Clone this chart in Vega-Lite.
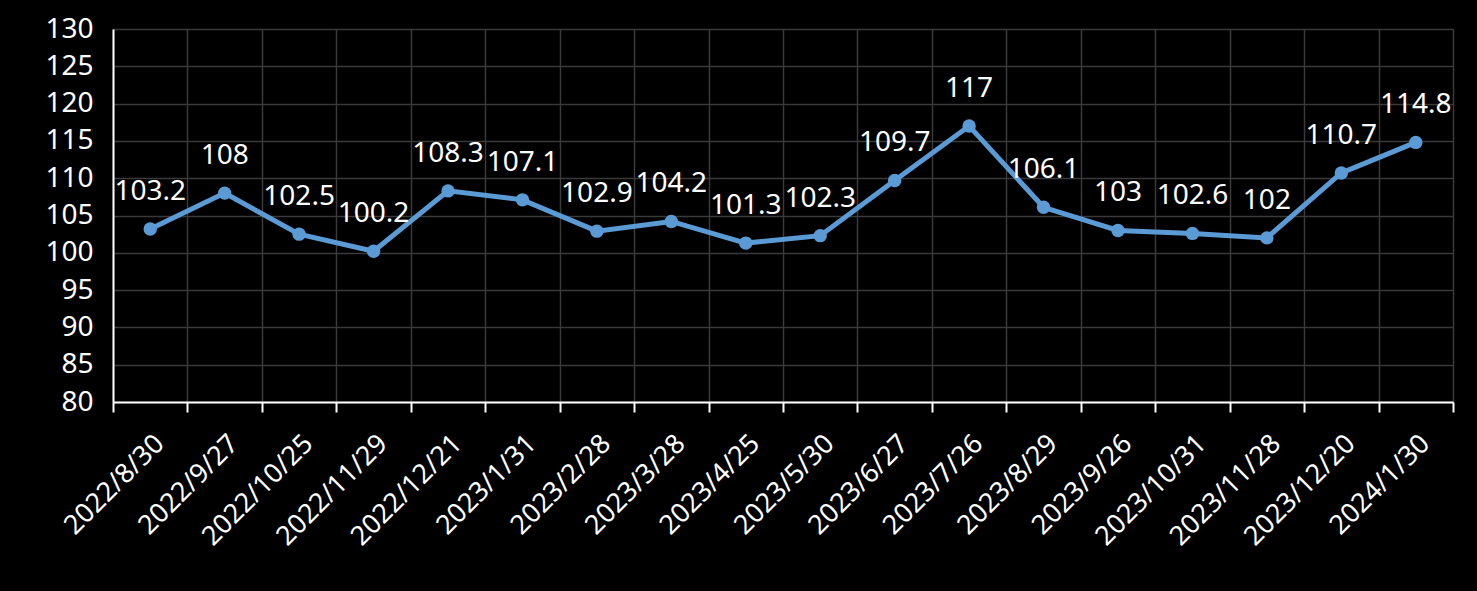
{
  "$schema": "https://vega.github.io/schema/vega-lite/v6.json",
  "autosize": "none",
  "padding": {"left": 113, "top": 29, "right": 24, "bottom": 189},
  "width": 1340,
  "height": 373,
  "background": "#000000",
  "config": {
    "view": {"stroke": null},
    "font": "Noto Sans"
  },
  "data": {
    "values": [
      {"date": "2022/8/30", "value": 103.2},
      {"date": "2022/9/27", "value": 108},
      {"date": "2022/10/25", "value": 102.5},
      {"date": "2022/11/29", "value": 100.2},
      {"date": "2022/12/21", "value": 108.3},
      {"date": "2023/1/31", "value": 107.1},
      {"date": "2023/2/28", "value": 102.9},
      {"date": "2023/3/28", "value": 104.2},
      {"date": "2023/4/25", "value": 101.3},
      {"date": "2023/5/30", "value": 102.3},
      {"date": "2023/6/27", "value": 109.7},
      {"date": "2023/7/26", "value": 117},
      {"date": "2023/8/29", "value": 106.1},
      {"date": "2023/9/26", "value": 103},
      {"date": "2023/10/31", "value": 102.6},
      {"date": "2023/11/28", "value": 102},
      {"date": "2023/12/20", "value": 110.7},
      {"date": "2024/1/30", "value": 114.8}
    ]
  },
  "encoding": {
    "x": {
      "field": "date",
      "type": "ordinal",
      "sort": null,
      "title": null,
      "axis": {
        "tickBand": "extent",
        "grid": true,
        "gridColor": "#3a3a3a",
        "gridWidth": 1.5,
        "domainColor": "#ffffff",
        "domainWidth": 2,
        "tickColor": "#ffffff",
        "tickWidth": 2,
        "tickSize": 10,
        "labelAngle": -45,
        "labelColor": "#ffffff",
        "labelFontSize": 27,
        "labelPadding": 18
      }
    },
    "y": {
      "field": "value",
      "type": "quantitative",
      "title": null,
      "scale": {"domain": [80, 130], "zero": false, "nice": false},
      "axis": {
        "values": [80, 85, 90, 95, 100, 105, 110, 115, 120, 125, 130],
        "grid": true,
        "gridColor": "#3a3a3a",
        "gridWidth": 1.5,
        "domainColor": "#ffffff",
        "domainWidth": 2,
        "ticks": false,
        "labelColor": "#ffffff",
        "labelFontSize": 28,
        "labelPadding": 20
      }
    }
  },
  "layer": [
    {
      "mark": {"type": "line", "color": "#5B9BD5", "strokeWidth": 5}
    },
    {
      "mark": {"type": "point", "filled": true, "opacity": 1, "color": "#5B9BD5", "size": 180}
    },
    {
      "mark": {"type": "text", "color": "#ffffff", "fontSize": 28, "dy": -37},
      "encoding": {"text": {"field": "value", "type": "quantitative"}}
    }
  ]
}
